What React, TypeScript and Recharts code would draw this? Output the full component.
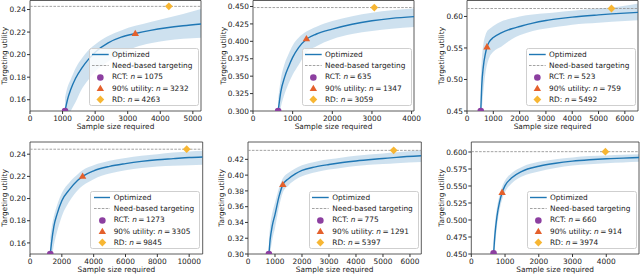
import React from 'react';
import { ComposedChart, XAxis, YAxis, Line, Area, Scatter, ReferenceLine, ReferenceArea } from 'recharts';

const FONT = "'DejaVu Sans', Verdana, sans-serif";
const FS = 7.4;
const TXT = '#1a1a1a';
const SPINE = '#333333';
const BLUE = '#1f77b4';
const PURPLE = '#8c3fa0';
const ORANGE = '#e4602c';
const GOLD = '#f7b633';

// ---------- Panel 1 ----------
const p1N = [1075, 1150, 1250, 1400, 1600, 1800, 2000, 2400, 2800, 3232, 3700, 4200, 4700, 5250];
const p1U = [0.15, 0.16, 0.169, 0.179, 0.1885, 0.196, 0.2022, 0.2105, 0.2155, 0.2187, 0.2215, 0.2238, 0.2256, 0.2272];
const p1Hi = [0.162, 0.171, 0.178, 0.188, 0.197, 0.204, 0.209, 0.2165, 0.2215, 0.2255, 0.229, 0.2325, 0.236, 0.2405];
const p1Lo = [0.14, 0.145, 0.15, 0.158, 0.17, 0.178, 0.185, 0.194, 0.201, 0.2065, 0.21, 0.2125, 0.214, 0.215];
const p1Need = 0.2428;
const p1Rct = [1075, 0.15];
const p1P90 = [3232, 0.2187];
const p1Rd = [4263, 0.2428];
const p1XTicks = [0, 1000, 2000, 3000, 4000, 5000];
const p1YTicks = [0.16, 0.18, 0.2, 0.22, 0.24];

// ---------- Panel 2 ----------
const p2N = [635, 700, 800, 900, 1000, 1150, 1347, 1600, 2000, 2500, 3000, 3500, 4060];
const p2U = [0.3, 0.327, 0.349, 0.364, 0.377, 0.391, 0.403, 0.4105, 0.4175, 0.4245, 0.4295, 0.433, 0.4355];
const p2Hi = [0.318, 0.345, 0.368, 0.382, 0.394, 0.405, 0.414, 0.421, 0.429, 0.436, 0.441, 0.4445, 0.447];
const p2Lo = [0.285, 0.305, 0.325, 0.34, 0.352, 0.366, 0.384, 0.393, 0.403, 0.4105, 0.415, 0.418, 0.4205];
const p2Need = 0.4485;
const p2Rct = [635, 0.3];
const p2P90 = [1347, 0.4035];
const p2Rd = [3059, 0.4485];
const p2XTicks = [0, 1000, 2000, 3000, 4000];
const p2YTicks = [0.3, 0.325, 0.35, 0.375, 0.4, 0.425, 0.45];

// ---------- Panel 3 ----------
const p3N = [523, 560, 620, 700, 759, 850, 1000, 1300, 1700, 2000, 2500, 3000, 3500, 4000, 5000, 5500, 6500];
const p3U = [0.45, 0.49, 0.52, 0.541, 0.5515, 0.56, 0.5665, 0.574, 0.5805, 0.584, 0.5895, 0.5935, 0.5965, 0.599, 0.6025, 0.604, 0.6065];
const p3Hi = [0.5, 0.53, 0.555, 0.57, 0.576, 0.58, 0.585, 0.592, 0.597, 0.6, 0.603, 0.605, 0.607, 0.609, 0.6125, 0.614, 0.6205];
const p3Lo = [0.43, 0.45, 0.48, 0.51, 0.523, 0.535, 0.544, 0.552, 0.564, 0.57, 0.577, 0.581, 0.584, 0.587, 0.59, 0.5915, 0.594];
const p3Need = 0.6126;
const p3Rct = [523, 0.45];
const p3P90 = [759, 0.5515];
const p3Rd = [5492, 0.6126];
const p3XTicks = [0, 1000, 2000, 3000, 4000, 5000, 6000];
const p3YTicks = [0.45, 0.5, 0.55, 0.6];

// ---------- Panel 4 ----------
const p4N = [1273, 1350, 1500, 1700, 2000, 2500, 3000, 3305, 4000, 5000, 6000, 7000, 8000, 9000, 10000, 10850];
const p4U = [0.15, 0.16, 0.175, 0.186, 0.198, 0.2085, 0.2165, 0.22, 0.225, 0.229, 0.2315, 0.2335, 0.235, 0.236, 0.237, 0.2375];
const p4Hi = [0.165, 0.173, 0.184, 0.194, 0.205, 0.215, 0.222, 0.2255, 0.23, 0.234, 0.2365, 0.2385, 0.24, 0.2415, 0.2425, 0.243];
const p4Lo = [0.14, 0.146, 0.158, 0.17, 0.184, 0.198, 0.2075, 0.2115, 0.2175, 0.2225, 0.2255, 0.2275, 0.229, 0.2295, 0.23, 0.2305];
const p4Need = 0.2445;
const p4Rct = [1273, 0.15];
const p4P90 = [3305, 0.22];
const p4Rd = [9845, 0.2445];
const p4XTicks = [0, 2000, 4000, 6000, 8000, 10000];
const p4YTicks = [0.16, 0.18, 0.2, 0.22, 0.24];

// ---------- Panel 5 ----------
const p5N = [775, 820, 900, 1000, 1150, 1291, 1500, 1750, 2000, 2500, 3000, 3500, 4000, 5000, 5500, 6420];
const p5U = [0.3, 0.318, 0.336, 0.35, 0.373, 0.388, 0.3955, 0.4015, 0.406, 0.4105, 0.4135, 0.416, 0.418, 0.421, 0.4225, 0.4245];
const p5Hi = [0.318, 0.335, 0.352, 0.365, 0.384, 0.396, 0.403, 0.4085, 0.4125, 0.417, 0.42, 0.4225, 0.4245, 0.4275, 0.429, 0.4315];
const p5Lo = [0.285, 0.3, 0.318, 0.333, 0.36, 0.378, 0.387, 0.394, 0.3985, 0.4035, 0.407, 0.4095, 0.4115, 0.414, 0.415, 0.4165];
const p5Need = 0.4314;
const p5Rct = [775, 0.3];
const p5P90 = [1291, 0.388];
const p5Rd = [5397, 0.4314];
const p5XTicks = [0, 1000, 2000, 3000, 4000, 5000, 6000];
const p5YTicks = [0.3, 0.32, 0.34, 0.36, 0.38, 0.4, 0.42];

// ---------- Panel 6 ----------
const p6N = [660, 700, 760, 840, 914, 1000, 1200, 1500, 2000, 2500, 3000, 3500, 4000, 4500, 4970];
const p6U = [0.45, 0.478, 0.505, 0.527, 0.5405, 0.5505, 0.562, 0.5715, 0.579, 0.5835, 0.5865, 0.5885, 0.59, 0.591, 0.592];
const p6Hi = [0.47, 0.495, 0.518, 0.537, 0.549, 0.558, 0.569, 0.578, 0.5855, 0.5895, 0.592, 0.594, 0.595, 0.596, 0.5968];
const p6Lo = [0.435, 0.46, 0.49, 0.515, 0.53, 0.541, 0.554, 0.564, 0.5715, 0.5765, 0.58, 0.582, 0.5835, 0.5845, 0.5855];
const p6Need = 0.6005;
const p6Rct = [660, 0.451];
const p6P90 = [914, 0.5405];
const p6Rd = [3974, 0.6005];
const p6XTicks = [0, 1000, 2000, 3000, 4000];
const p6YTicks = [0.45, 0.475, 0.5, 0.525, 0.55, 0.575, 0.6];

type Layout = {
  left: number; top: number; width: number; height: number;
  mTop: number; mRight: number; yW: number; xH: number; yLabOff: number; xLabOff: number;
};

type Panel = {
  layout: Layout;
  n: number[]; u: number[]; hi: number[]; lo: number[];
  need: number; rct: number[]; p90: number[]; rd: number[];
  xDomain: [number, number]; yDomain: [number, number];
  xTicks: number[]; yTicks: number[]; yDec: number;
};

const panels: Panel[] = [
  {
    layout: { left: 0, top: 0, width: 213, height: 137, mTop: 0.5, mRight: 12, yW: 30, xH: 26, yLabOff: 4, xLabOff: 8 },
    n: p1N, u: p1U, hi: p1Hi, lo: p1Lo, need: p1Need, rct: p1Rct, p90: p1P90, rd: p1Rd,
    xDomain: [0, 5250], yDomain: [0.15, 0.248], xTicks: p1XTicks, yTicks: p1YTicks, yDec: 2,
  },
  {
    layout: { left: 213, top: 0, width: 213, height: 137, mTop: 0.5, mRight: 12, yW: 40, xH: 26, yLabOff: 10, xLabOff: 8 },
    n: p2N, u: p2U, hi: p2Hi, lo: p2Lo, need: p2Need, rct: p2Rct, p90: p2P90, rd: p2Rd,
    xDomain: [0, 4060], yDomain: [0.3, 0.4586], xTicks: p2XTicks, yTicks: p2YTicks, yDec: 3,
  },
  {
    layout: { left: 426, top: 0, width: 214, height: 137, mTop: 0.5, mRight: 2, yW: 41, xH: 26, yLabOff: 15, xLabOff: 8 },
    n: p3N, u: p3U, hi: p3Hi, lo: p3Lo, need: p3Need, rct: p3Rct, p90: p3P90, rd: p3Rd,
    xDomain: [0, 6500], yDomain: [0.45, 0.6253], xTicks: p3XTicks, yTicks: p3YTicks, yDec: 2,
  },
  {
    layout: { left: 0, top: 137, width: 213, height: 138, mTop: 5, mRight: 10.3, yW: 30, xH: 21, yLabOff: 4, xLabOff: 3 },
    n: p4N, u: p4U, hi: p4Hi, lo: p4Lo, need: p4Need, rct: p4Rct, p90: p4P90, rd: p4Rd,
    xDomain: [0, 10850], yDomain: [0.15, 0.251], xTicks: p4XTicks, yTicks: p4YTicks, yDec: 2,
  },
  {
    layout: { left: 213, top: 137, width: 213, height: 138, mTop: 5, mRight: 4.7, yW: 35, xH: 21, yLabOff: 8, xLabOff: 3 },
    n: p5N, u: p5U, hi: p5Hi, lo: p5Lo, need: p5Need, rct: p5Rct, p90: p5P90, rd: p5Rd,
    xDomain: [0, 6420], yDomain: [0.3, 0.442], xTicks: p5XTicks, yTicks: p5YTicks, yDec: 2,
  },
  {
    layout: { left: 426, top: 137, width: 214, height: 138, mTop: 5, mRight: 1, yW: 45.3, xH: 21, yLabOff: 15, xLabOff: 3 },
    n: p6N, u: p6U, hi: p6Hi, lo: p6Lo, need: p6Need, rct: p6Rct, p90: p6P90, rd: p6Rd,
    xDomain: [0, 4970], yDomain: [0.45, 0.6147], xTicks: p6XTicks, yTicks: p6YTicks, yDec: 3,
  },
];

const CircleMark = (p: any) => <circle cx={p.cx} cy={p.cy} r={3.3} fill={PURPLE} />;
const TriMark = (p: any) => {
  const s = 3.9;
  return (
    <polygon
      points={`${p.cx},${p.cy - s} ${p.cx + s * 0.95},${p.cy + s * 0.62} ${p.cx - s * 0.95},${p.cy + s * 0.62}`}
      fill={ORANGE}
    />
  );
};
const DiaMark = (p: any) => {
  const s = 3.9;
  return (
    <polygon
      points={`${p.cx},${p.cy - s} ${p.cx + s},${p.cy} ${p.cx},${p.cy + s} ${p.cx - s},${p.cy}`}
      fill={GOLD}
    />
  );
};

const tickStyle = { fontSize: FS, fill: TXT, fontFamily: FONT };
const labelStyle = { fontSize: FS, fill: TXT, fontFamily: FONT, textAnchor: 'middle' as const };

function LegendBox({ panel }: { panel: Panel }) {
  const L = panel.layout;
  const plotRight = L.left + L.width - L.mRight;
  const plotBottom = L.top + L.height - L.xH;
  const right = 640 - (plotRight - 2.5);
  const bottom = 275 - (plotBottom - 5);
  const rowH = 11.2;
  const Handle = ({ kind }: { kind: string }) => (
    <svg width={16.7} height={9} style={{ display: 'block', flex: '0 0 auto' }}>
      {kind === 'line' && <line x1={0} y1={4.5} x2={16.7} y2={4.5} stroke={BLUE} strokeWidth={1.4} />}
      {kind === 'dash' && <line x1={0} y1={4.5} x2={16.7} y2={4.5} stroke="#999" strokeWidth={0.9} strokeDasharray="2.6 1.3" />}
      {kind === 'rct' && <CircleMark cx={8.35} cy={4.5} />}
      {kind === 'p90' && <TriMark cx={8.35} cy={4.7} />}
      {kind === 'rd' && <DiaMark cx={8.35} cy={4.5} />}
    </svg>
  );
  const nTxt = (prefix: string, v: number) => (
    <span>
      {prefix}<span style={{ fontStyle: 'italic' }}>n</span>{'\u2009=\u2009'}{v}
    </span>
  );
  const rows: [string, React.ReactNode][] = [
    ['line', 'Optimized'],
    ['dash', 'Need-based targeting'],
    ['rct', nTxt('RCT: ', panel.rct[0])],
    ['p90', nTxt('90% utility: ', panel.p90[0])],
    ['rd', nTxt('RD: ', panel.rd[0])],
  ];
  return (
    <div
      style={{
        position: 'absolute', right, bottom,
        background: 'rgba(255,255,255,0.82)', border: '0.8px solid #cfcfcf', borderRadius: 2.5,
        padding: '0.4px 5px 0 2.3px', fontFamily: FONT, fontSize: FS, color: TXT,
        whiteSpace: 'nowrap', boxSizing: 'border-box',
      }}
    >
      {rows.map(([k, t], i) => (
        <div key={i} style={{ display: 'flex', alignItems: 'center', height: rowH, lineHeight: `${rowH}px` }}>
          <Handle kind={k} />
          <span style={{ marginLeft: 3.3 }}>{t}</span>
        </div>
      ))}
    </div>
  );
}

function PanelChart({ panel }: { panel: Panel }) {
  const L = panel.layout;
  const data = panel.n.map((n, i) => ({ n, u: panel.u[i], band: [panel.lo[i], panel.hi[i]] }));
  const [x0, x1] = panel.xDomain;
  const [y0, y1] = panel.yDomain;
  return (
    <div style={{ position: 'absolute', left: L.left, top: L.top }}>
      <ComposedChart
        width={L.width}
        height={L.height}
        data={data}
        margin={{ top: L.mTop, right: L.mRight, bottom: 0, left: 0 }}
      >
        <XAxis
          type="number"
          dataKey="n"
          domain={[x0, x1]}
          ticks={panel.xTicks}
          interval={0}
          allowDataOverflow
          axisLine={false}
          tickSize={3}
          tickMargin={1.5}
          stroke={SPINE}
          tick={tickStyle}
          height={L.xH}
          label={{ value: 'Sample size required', position: 'insideBottom', offset: L.xLabOff, style: labelStyle }}
        />
        <YAxis
          type="number"
          dataKey="u"
          domain={[y0, y1]}
          ticks={panel.yTicks}
          interval={0}
          allowDataOverflow
          axisLine={false}
          tickSize={3}
          tickMargin={1}
          stroke={SPINE}
          tick={tickStyle}
          width={L.yW}
          tickFormatter={(v: number) => v.toFixed(panel.yDec)}
          label={{ value: 'Targeting utility', angle: -90, position: 'insideLeft', offset: L.yLabOff, style: labelStyle }}
        />
        <Area
          type="monotone"
          dataKey="band"
          stroke="none"
          fill={BLUE}
          fillOpacity={0.22}
          isAnimationActive={false}
          activeDot={false}
          dot={false}
        />
        <ReferenceLine y={panel.need} stroke="#999999" strokeWidth={0.9} strokeDasharray="2.6 1.3" />
        <Line
          type="monotone"
          dataKey="u"
          stroke={BLUE}
          strokeWidth={1.4}
          dot={false}
          activeDot={false}
          isAnimationActive={false}
        />
        <ReferenceArea
          x1={x0}
          x2={x1}
          y1={y0}
          y2={y1}
          fill="none"
          fillOpacity={0}
          stroke={SPINE}
          strokeWidth={0.8}
          ifOverflow="visible"
        />
        <Scatter data={[{ n: panel.rct[0], u: panel.rct[1] }]} dataKey="u" shape={CircleMark} isAnimationActive={false} />
        <Scatter data={[{ n: panel.p90[0], u: panel.p90[1] }]} dataKey="u" shape={TriMark} isAnimationActive={false} />
        <Scatter data={[{ n: panel.rd[0], u: panel.rd[1] }]} dataKey="u" shape={DiaMark} isAnimationActive={false} />
      </ComposedChart>
    </div>
  );
}

export default function App() {
  return (
    <div style={{ position: 'absolute', left: 0, top: 0, width: 640, height: 275, background: '#fff', overflow: 'hidden' }}>
      {panels.map((p, i) => (
        <PanelChart key={i} panel={p} />
      ))}
      {panels.map((p, i) => (
        <LegendBox key={'l' + i} panel={p} />
      ))}
    </div>
  );
}
